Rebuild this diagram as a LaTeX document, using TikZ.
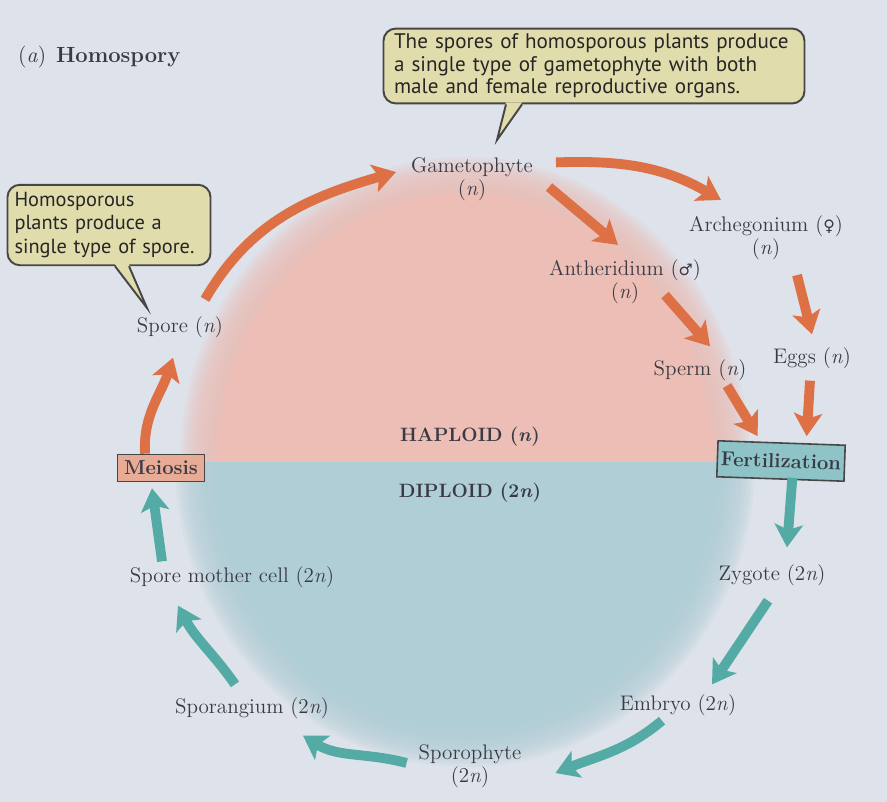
\documentclass[tikz,border=0pt]{standalone}
\usepackage{fontspec}
\newfontfamily\notefont{PT Sans}
\newfontfamily\symbfont{DejaVu Sans}
\usetikzlibrary{arrows.meta}

\definecolor{bgcol}{RGB}{222,226,234}
\definecolor{hapcol}{RGB}{236,190,182}
\definecolor{dipcol}{RGB}{176,206,214}
\definecolor{hapar}{RGB}{222,112,70}
\definecolor{dipar}{RGB}{84,170,164}
\definecolor{txtcol}{RGB}{58,58,68}
\definecolor{notefill}{RGB}{225,220,172}
\definecolor{noteline}{RGB}{70,70,70}
\definecolor{meiofill}{RGB}{232,172,150}
\definecolor{fertfill}{RGB}{142,196,200}

\tikzset{
  lbl/.style={font=\fontsize{12}{13}\selectfont, align=center, inner sep=1pt, text=txtcol},
  phase/.style={font=\fontsize{11}{13}\selectfont\bfseries, text=txtcol, inner sep=1pt},
  stagebox/.style={draw=noteline, line width=0.9pt, font=\fontsize{11.5}{13}\selectfont\bfseries,
    text=txtcol, inner sep=2pt},
  note/.style={draw=noteline, line width=1.1pt, fill=notefill, rounded corners=7pt,
    align=left, text=black!85, inner xsep=6pt},
  cyc/.style={line width=5.6pt, -{Stealth[length=13pt,width=16pt,inset=3pt]}},
  hapflow/.style={cyc, hapar},
  dipflow/.style={cyc, dipar}
}

\newcommand{\fem}{{\symbfont\fontsize{9}{9}\selectfont ♀}}
\newcommand{\mal}{{\symbfont\fontsize{9}{9}\selectfont ♂}}

\begin{document}
\begin{tikzpicture}[x=0.02cm, y=0.02cm]
	\useasboundingbox (0,0) rectangle (887,-802);
	\fill[bgcol] (0,0) rectangle (887,-802);

	% haploid and diploid halves, soft edge
	\begin{scope}
		\clip (0,0) rectangle (887,-462);
		\foreach \i in {0,...,11}
			\fill[hapcol, opacity=0.16] (465,-462) ellipse[x radius={(285-3*\i)*0.02cm}, y radius={(305-3*\i)*0.02cm}];
		\fill[hapcol] (465,-462) ellipse[x radius={249*0.02cm}, y radius={269*0.02cm}];
	\end{scope}
	\begin{scope}
		\clip (0,-462) rectangle (887,-802);
		\foreach \i in {0,...,11}
			\fill[dipcol, opacity=0.16] (465,-462) ellipse[x radius={(290-3*\i)*0.02cm}, y radius={(305-3*\i)*0.02cm}];
		\fill[dipcol] (465,-462) ellipse[x radius={254*0.02cm}, y radius={269*0.02cm}];
	\end{scope}

	\node[anchor=west, font=\fontsize{12.5}{14}\selectfont, text=txtcol] (title) at (12,-57)
		{(\textit{a})\hspace{0.45em}\textbf{Homospory}};

	\node[phase] (haplabel) at (470,-437) {HAPLOID (\textit{n})};
	\node[phase] (diplabel) at (470,-493) {DIPLOID (2\textit{n})};

	\node[lbl] (gameto) at (472,-179) {Gametophyte\\(\textit{n})};
	\node[lbl] (arche) at (766,-238) {Archegonium (\fem)\\(\textit{n})};
	\node[lbl] (anther) at (625,-282) {Antheridium (\mal)\\(\textit{n})};
	\node[lbl] (sperm) at (700,-370) {Sperm (\textit{n})};
	\node[lbl] (eggs) at (812,-358) {Eggs (\textit{n})};
	\node[stagebox, fill=fertfill, minimum width=2.54cm, minimum height=0.72cm, rotate=-2]
		(fert) at (781,-461) {Fertilization};
	\node[lbl] (zyg) at (772,-575) {Zygote (2\textit{n})};
	\node[lbl] (emb) at (678,-705) {Embryo (2\textit{n})};
	\node[lbl] (sporo) at (470,-766) {Sporophyte\\(2\textit{n})};
	\node[lbl] (spgm) at (252,-708) {Sporangium (2\textit{n})};
	\node[lbl] (smc) at (232,-577) {Spore mother cell (2\textit{n})};
	\node[stagebox, fill=meiofill, minimum width=1.74cm, minimum height=0.54cm]
		(meio) at (161,-468) {Meiosis};
	\node[lbl] (spore) at (180,-327) {Spore (\textit{n})};

	% callouts
	\node[note, text width=8.0cm, inner ysep=3pt, font=\notefont\fontsize{12}{12.8}\selectfont]
		(topnote) at (594,-66)
		{The spores of homosporous plants produce\\a single type of gametophyte with both\\male and female reproductive organs.};
	\coordinate (toptip) at (497,-140);
	\fill[notefill] ([shift={(-88,2)}]topnote.south) -- (toptip) -- ([shift={(-72,2)}]topnote.south) -- cycle;
	\draw[noteline, line width=1.1pt] ([shift={(-88,0)}]topnote.south) -- (toptip) -- ([shift={(-72,0)}]topnote.south);

	\node[note, text width=3.78cm, inner xsep=4pt, inner ysep=4pt, font=\notefont\fontsize{11.6}{13.6}\selectfont]
		(leftnote) at (109,-225)
		{Homosporous\\plants produce a\\single type of spore.};
	\coordinate (lefttip) at (147,-308);
	\fill[notefill] ([shift={(6,2)}]leftnote.south) -- (lefttip) -- ([shift={(20,2)}]leftnote.south) -- cycle;
	\draw[noteline, line width=1.1pt] ([shift={(6,0)}]leftnote.south) -- (lefttip) -- ([shift={(20,0)}]leftnote.south);

	% haploid arrows
	\draw[hapflow] ([shift={(25,15)}]spore.north) to[out=60, in=196] ([shift={(-13,7)}]gameto.west);
	\draw[hapflow] ([shift={(21,-7)}]gameto.north east) to[out=2, in=150] ([shift={(34,14)}]arche.north west);
	\draw[hapflow] ([shift={(14,-8)}]gameto.east) -- ([shift={(-7,13)}]anther.north);
	\draw[hapflow] ([shift={(31,-13)}]arche.south) -- ([shift={(0,11)}]eggs.north);
	\draw[hapflow] ([shift={(40,11)}]anther.south) -- ([shift={(10,11)}]sperm.north);
	\draw[hapflow] ([shift={(27,-3)}]sperm.south) -- ([shift={(-24,6)}]fert.north);
	\draw[hapflow] ([shift={(-2,-10)}]eggs.south) -- ([shift={(25,6)}]fert.north);
	\draw[hapflow] ([shift={(-16,0)}]meio.north) to[out=93, in=-108] ([shift={(-7,-18)}]spore.south);

	% diploid arrows
	\draw[dipflow] ([shift={(12,2)}]fert.south) -- ([shift={(15,15)}]zyg.north);
	\draw[dipflow] ([shift={(-4,-13)}]zyg.south) -- ([shift={(34,8)}]emb.north);
	\draw[dipflow] ([shift={(-16,-3)}]emb.south) to[out=220, in=22] ([shift={(32,-7)}]sporo.east);
	\draw[dipflow] ([shift={(-10,3)}]sporo.west) to[out=165, in=-32] ([shift={(51,-15)}]spgm.south);
	\draw[dipflow] ([shift={(-17,11)}]spgm.north) to[out=125, in=-62] ([shift={(-54,-16)}]smc.south);
	\draw[dipflow] ([shift={(-70,3)}]smc.north) -- ([shift={(-9,-6)}]meio.south);
\end{tikzpicture}
\end{document}
